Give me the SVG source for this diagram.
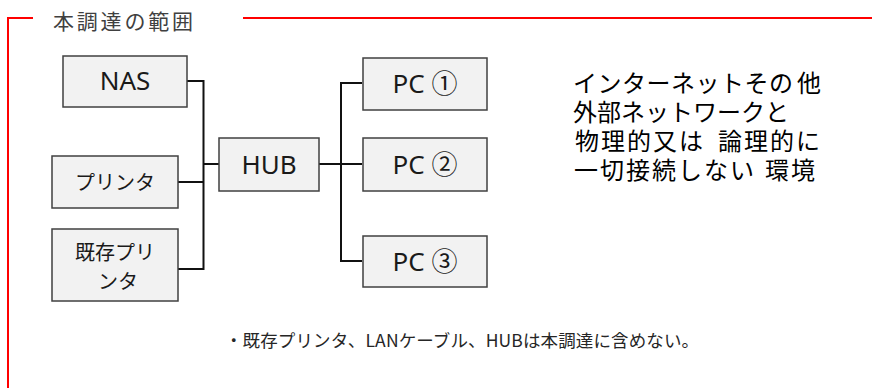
<svg xmlns="http://www.w3.org/2000/svg" width="872" height="388" viewBox="0 0 872 388">
<style>
.box{fill:#f2f2f2;stroke:#404040;stroke-width:1.5}
.lbl{font-family:"Noto Sans","Noto Sans CJK JP",sans-serif;font-size:26px;fill:#1a1a1a;text-anchor:middle}
.jp{font-family:"Noto Sans CJK JP",sans-serif;font-size:20px;fill:#1a1a1a;text-anchor:middle}
.wire{fill:none;stroke:#111;stroke-width:2}
.frame{fill:none;stroke:#ff0000;stroke-width:2}
.note{font-family:"Noto Sans CJK JP",sans-serif;fill:#000;font-size:24px;letter-spacing:2px}
</style>
<rect width="872" height="388" fill="#fff"/>
<g id="frame">
<path class="frame" d="M33,18 H8 V388"/>
<path class="frame" d="M243,18 H872"/>
<text x="53" y="29" font-family="Noto Sans CJK JP, sans-serif" font-size="21" fill="#404040" textLength="140" lengthAdjust="spacing">本調達の範囲</text>
</g>
<g id="connectors">
<path class="wire" d="M187,81 H203.5 V269 H178"/>
<path class="wire" d="M178,182 H203.5"/>
<path class="wire" d="M203.5,164 H219"/>
<path class="wire" d="M319,164 H362"/>
<path class="wire" d="M362,83 H341 V261 H362"/>
</g>
<g id="nas"><rect class="box" x="63" y="56" width="124" height="51"/><text class="lbl" x="125" y="90">NAS</text></g>
<g id="printer"><rect class="box" x="52" y="156" width="126" height="52"/><text class="jp" x="115" y="190">プリンタ</text></g>
<g id="old-printer"><rect class="box" x="52" y="229" width="126" height="72"/><text class="jp"><tspan x="115" y="260">既存プリ</tspan><tspan x="118" y="289">ンタ</tspan></text></g>
<g id="hub"><rect class="box" x="219" y="138" width="100" height="53"/><text class="lbl" x="269" y="174">HUB</text></g>
<g id="pc1"><rect class="box" x="363" y="58" width="124" height="52"/><text class="lbl" x="425" y="93">PC ①</text></g>
<g id="pc2"><rect class="box" x="363" y="138" width="124" height="53"/><text class="lbl" x="425" y="174">PC ②</text></g>
<g id="pc3"><rect class="box" x="363" y="236" width="124" height="51"/><text class="lbl" x="425" y="271">PC ③</text></g>
<g id="env-note">
<text class="note"><tspan x="573" y="92" letter-spacing="0.5">インターネットその</tspan><tspan x="797" y="92">他</tspan><tspan x="573" y="121" letter-spacing="0">外部ネットワークと</tspan><tspan x="575" y="150">物理的又は</tspan><tspan x="718" y="150">論理的に</tspan><tspan x="574" y="179">一切接続しない</tspan><tspan x="765" y="179">環境</tspan></text>
</g>
<g id="footnote"><text x="225" y="347" font-family="Noto Sans CJK JP, sans-serif" font-size="17.5" fill="#262626" textLength="474" lengthAdjust="spacing">・既存プリンタ、LANケーブル、HUBは本調達に含めない。</text></g>
</svg>
